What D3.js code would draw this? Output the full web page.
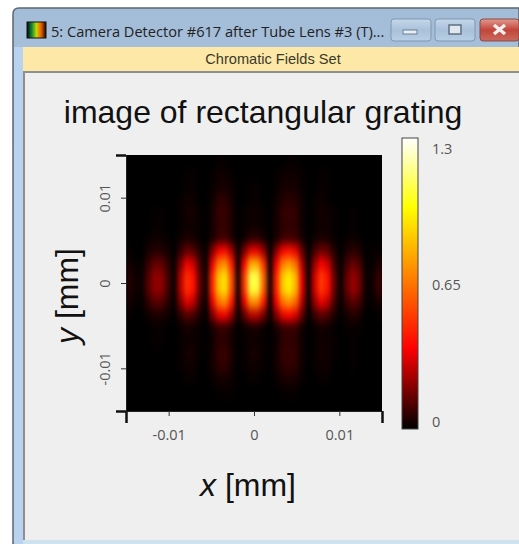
<!DOCTYPE html>
<html>
<head>
<meta charset="utf-8">
<script src="https://cdn.jsdelivr.net/npm/d3@7"></script>
<style>
  html, body { margin: 0; padding: 0; background: #fff; }
  svg { display: block; }
  .tick-label { font-family: "Open Sans", sans-serif; font-size: 14.5px; fill: #555; }
  .big { font-family: "Liberation Sans", Arial, sans-serif; fill: #111; }
</style>
</head>
<body>
<svg id="chart"></svg>
<script>
const windowTitle = "5: Camera Detector #617 after Tube Lens #3 (T)...";
const bandTitle = "Chromatic Fields Set";
const chartTitle = "image of rectangular grating";

const xTicks = [-0.015, -0.01, 0, 0.01, 0.015];
const yTicks = [-0.015, -0.01, 0, 0.01, 0.015];
const xLabels = ["", "-0.01", "0", "0.01", ""];
const yLabels = ["", "-0.01", "0", "0.01", ""];
const barTicks = [0, 0.65, 1.3];
const barLabels = ["0", "0.65", "1.3"];

// colour bar stops
const colorStops = [0, 0.36, 0.99, 1.3];
const colorValues = ["#000000", "#ff0000", "#ffff00", "#ffffff"];

// intensity, top row first, left to right
const intensity = [
  [0,0,0,0,0,0,0,0,0,0,0,0,0,0,.01,.01,0,0,0,0,0,0,0,0,0,.01,.01,0,0,0,0,0,0,0,0,0,0,0,0,0],
  [0,0,0,0,0,0,0,0,0,.01,.01,0,0,.01,.02,.02,.01,0,0,0,0,0,0,.01,.02,.02,.02,.01,0,0,.01,.01,0,0,0,0,0,0,0,0],
  [0,0,0,0,0,0,0,0,0,.01,.01,0,0,.01,.03,.03,.02,0,0,.01,.01,0,0,.01,.03,.03,.03,.01,0,0,.01,.01,0,0,0,0,0,0,0,0],
  [0,0,0,0,0,0,0,0,.01,.02,.02,0,0,.02,.06,.06,.03,0,0,.01,.01,0,0,.02,.05,.06,.05,.02,0,.01,.02,.01,0,0,0,0,0,0,0,0],
  [0,0,0,0,.01,.01,0,0,.01,.03,.03,.01,0,.03,.08,.08,.04,0,.01,.02,.02,.01,0,.03,.07,.08,.07,.02,0,.01,.03,.02,.01,0,0,.01,0,0,0,0],
  [0,0,0,0,.01,.01,0,0,.01,.02,.02,.01,0,.03,.07,.07,.04,0,.01,.02,.02,.01,0,.03,.06,.07,.06,.02,0,.01,.02,.02,.01,0,0,.01,0,0,0,0],
  [0,0,0,.01,.02,.02,.01,0,.02,.04,.03,.01,0,.03,.08,.09,.04,0,.02,.06,.06,.03,0,.03,.08,.09,.08,.03,0,.02,.04,.03,.01,0,.01,.02,.01,0,0,0],
  [.01,0,0,.03,.05,.05,.03,0,.07,.14,.12,.05,.01,.18,.35,.38,.23,.01,.17,.33,.33,.21,.01,.19,.36,.40,.34,.14,0,.10,.16,.13,.05,0,.04,.06,.04,0,.01,.01],
  [.03,.01,.01,.08,.14,.14,.07,.01,.17,.34,.29,.10,.01,.33,.66,.72,.43,.02,.37,.78,.78,.48,.02,.35,.67,.74,.63,.25,.01,.22,.36,.29,.10,.01,.09,.15,.10,.01,.01,.04],
  [.05,.02,.02,.12,.20,.20,.10,.01,.25,.47,.40,.14,.02,.45,.85,.92,.55,.03,.50,1.08,1.08,.62,.03,.45,.86,.95,.81,.32,.01,.30,.50,.40,.15,.01,.14,.22,.15,.01,.02,.08],
  [.05,.02,.02,.12,.20,.20,.10,.01,.25,.47,.40,.14,.02,.45,.85,.92,.55,.03,.48,1.06,1.06,.60,.03,.45,.86,.95,.81,.32,.01,.30,.50,.40,.15,.01,.14,.22,.15,.01,.02,.08],
  [.03,.01,.01,.07,.12,.12,.06,.01,.17,.32,.27,.09,.01,.33,.64,.70,.42,.02,.33,.70,.70,.42,.02,.35,.65,.72,.61,.25,.01,.21,.34,.27,.10,.01,.08,.13,.09,.01,.01,.03],
  [.01,0,0,.02,.04,.04,.02,0,.06,.12,.10,.04,0,.17,.32,.35,.21,.01,.13,.26,.26,.16,.01,.18,.33,.37,.31,.14,0,.08,.13,.10,.04,0,.03,.05,.03,0,0,.01],
  [0,0,0,0,.01,.01,0,0,.01,.03,.02,.01,0,.03,.07,.07,.04,0,.01,.03,.03,.01,0,.03,.07,.08,.07,.02,0,.01,.03,.02,.01,0,.01,.01,.01,0,0,0],
  [0,0,0,0,.01,.01,0,0,.01,.02,.02,.01,0,.02,.06,.06,.03,0,.01,.02,.02,.01,0,.02,.06,.07,.06,.02,0,.01,.02,.02,.01,0,0,.01,0,0,0,0],
  [0,0,0,0,0,0,0,0,.01,.03,.03,.01,0,.03,.07,.08,.04,0,.01,.03,.03,.01,0,.03,.07,.08,.07,.02,0,.01,.03,.02,.01,0,0,.01,0,0,0,0],
  [0,0,0,0,0,0,0,0,.01,.02,.02,0,0,.03,.06,.07,.03,0,.01,.02,.02,.01,0,.03,.06,.07,.06,.02,0,.01,.02,.02,0,0,0,.01,0,0,0,0],
  [0,0,0,0,0,0,0,0,0,.01,.01,0,0,.01,.03,.03,.02,0,0,.01,.01,0,0,.01,.03,.04,.03,.01,0,0,.01,.01,0,0,0,0,0,0,0,0],
  [0,0,0,0,0,0,0,0,0,0,0,0,0,0,.01,.01,.01,0,0,0,0,0,0,0,.01,.01,.01,0,0,0,0,0,0,0,0,0,0,0,0,0],
  [0,0,0,0,0,0,0,0,0,0,0,0,0,0,0,0,0,0,0,0,0,0,0,0,0,0,0,0,0,0,0,0,0,0,0,0,0,0,0,0],
];

const w = 519;
const h = 544;
const plot = { left: 126, right: 382, top: 155, bottom: 411 };

const svg = d3.select("#chart").attr("width", w).attr("height", h);
const defs = svg.append("defs");

function gradient(id, stops, horizontal) {
  const g = defs.append("linearGradient").attr("id", id)
    .attr("x1", 0).attr("y1", 0).attr("x2", horizontal ? 1 : 0).attr("y2", horizontal ? 0 : 1);
  stops.forEach((s) => g.append("stop").attr("offset", s[0]).attr("stop-color", s[1]));
}
gradient("frame", [[0, "#a3bcd8"], [0.5, "#b4cbe4"], [1, "#bcd3ec"]]);
gradient("btn", [[0, "#c6d8ea"], [0.5, "#a9c1da"], [1, "#b8cfe4"]]);
gradient("closeBtn", [[0, "#e09a8e"], [0.5, "#c2453a"], [1, "#c96a5e"]]);
gradient("icon", [[0, "#050505"], [0.25, "#0b8a35"], [0.5, "#c8d400"], [0.75, "#e85a00"], [1, "#120400"]], true);

// window frame
svg.append("path")
  .attr("d", "M13,544 V14 Q13,8 19,8 H519 V544 Z")
  .attr("fill", "url(#frame)")
  .attr("stroke", "#5e6670")
  .attr("stroke-width", 1.5);
svg.append("rect").attr("x", 14).attr("y", 47).attr("width", 9).attr("height", 497).attr("fill", "#b9d2ef");
svg.append("rect").attr("x", 23).attr("y", 47).attr("width", 496).attr("height", 24).attr("fill", "#fde8a8");
svg.append("rect").attr("x", 23).attr("y", 71).attr("width", 496).attr("height", 473).attr("fill", "#8f8f8f");
svg.append("rect").attr("x", 25).attr("y", 73).attr("width", 494).attr("height", 467).attr("fill", "#efefef");
svg.append("rect").attr("x", 23).attr("y", 540).attr("width", 496).attr("height", 4).attr("fill", "#cfe2f0");

svg.append("rect").attr("x", 27).attr("y", 22).attr("width", 19).attr("height", 16)
  .attr("fill", "url(#icon)").attr("stroke", "#111");

svg.append("text").attr("x", 51).attr("y", 37)
  .attr("font-family", "'Open Sans', sans-serif").attr("font-size", 14.6).attr("fill", "#222")
  .text(windowTitle);
svg.append("text").attr("x", 273).attr("y", 64).attr("text-anchor", "middle")
  .attr("font-family", "'Liberation Sans', Arial, sans-serif").attr("font-size", 14.6).attr("fill", "#3a3a2a")
  .text(bandTitle);

// caption buttons
[[391, "url(#btn)"], [435, "url(#btn)"], [480, "url(#closeBtn)"]].forEach((b, i) => {
  svg.append("rect").attr("x", b[0]).attr("y", 19).attr("width", i === 2 ? 39 : 40).attr("height", 22).attr("rx", 3)
    .attr("fill", b[1]).attr("stroke", i === 2 ? "#8a4a44" : "#7f97b0");
});
svg.append("rect").attr("x", 403).attr("y", 30).attr("width", 14).attr("height", 4).attr("fill", "#e8eef4").attr("stroke", "#6d7f92");
svg.append("rect").attr("x", 449).attr("y", 25).attr("width", 12).attr("height", 9).attr("fill", "#dfe7ef").attr("stroke", "#5f7082").attr("stroke-width", 1.5);
svg.append("path").attr("d", "M494,25 L505,34 M505,25 L494,34").attr("stroke", "#f2eeee").attr("stroke-width", 3.5);

// heat map
const xScale = d3.scaleLinear().domain([-0.015, 0.015]).range([plot.left, plot.right]);
const yScale = d3.scaleLinear().domain([-0.015, 0.015]).range([plot.bottom, plot.top]);
const colScale = d3.scaleBand().domain(d3.range(intensity[0].length)).range([plot.left, plot.right]);
const rowScale = d3.scaleBand().domain(d3.range(intensity.length)).range([plot.top, plot.bottom]);
const color = d3.scaleLinear().domain(colorStops).range(colorValues).clamp(true);

defs.append("clipPath").attr("id", "plotClip").append("rect")
  .attr("x", plot.left).attr("y", plot.top)
  .attr("width", plot.right - plot.left).attr("height", plot.bottom - plot.top);
const blur = defs.append("filter").attr("id", "smooth")
  .attr("filterUnits", "userSpaceOnUse")
  .attr("x", plot.left - 30).attr("y", plot.top - 30).attr("width", 316).attr("height", 316)
  .attr("color-interpolation-filters", "sRGB");
blur.append("feGaussianBlur").attr("stdDeviation", "1.9 5");

const clipped = svg.append("g").attr("clip-path", "url(#plotClip)");
clipped.append("rect")
  .attr("x", plot.left).attr("y", plot.top)
  .attr("width", plot.right - plot.left).attr("height", plot.bottom - plot.top)
  .attr("fill", "#000");
const cells = clipped.append("g").attr("filter", "url(#smooth)");
cells.selectAll("g")
  .data(intensity)
  .enter()
  .append("g")
  .selectAll("rect")
  .data((row, j) => row.map((v, i) => ({ v, i, j })))
  .enter()
  .append("rect")
  .attr("x", (d) => colScale(d.i))
  .attr("y", (d) => rowScale(d.j))
  .attr("width", colScale.bandwidth() + 0.5)
  .attr("height", rowScale.bandwidth() + 0.5)
  .attr("fill", (d) => color(d.v));

// axes
const xAxis = d3.axisBottom(xScale).tickValues(xTicks).tickSize(5).tickFormat((d, i) => xLabels[i]);
const yAxis = d3.axisLeft(yScale).tickValues(yTicks).tickSize(5).tickFormat((d, i) => yLabels[i]);

const gx = svg.append("g").attr("transform", `translate(0, ${plot.bottom})`).call(xAxis);
gx.select(".domain").attr("stroke", "#222");
gx.selectAll("line").attr("stroke", "#333");
gx.selectAll("text").attr("class", "tick-label").attr("y", 24).attr("dy", "0.32em");
gx.selectAll(".tick").filter((d) => Math.abs(d) > 0.012).select("line")
  .attr("y2", 12).attr("stroke", "#111").attr("stroke-width", 2.5);

const gy = svg.append("g").attr("transform", `translate(${plot.left}, 0)`).call(yAxis);
gy.select(".domain").attr("stroke", "#222");
gy.selectAll("line").attr("stroke", "#333");
gy.selectAll("text").attr("class", "tick-label")
  .attr("transform", "translate(-21, 0) rotate(-90)")
  .attr("x", 0).attr("y", 0).attr("dy", "0.32em").attr("text-anchor", "middle");
gy.selectAll(".tick").filter((d) => Math.abs(d) > 0.012).select("line")
  .attr("x2", -10).attr("stroke", "#111").attr("stroke-width", 2.5);

// colour bar
const barScale = d3.scaleLinear().domain([0, 1.3]).range([429, 138]);
const barLabelScale = d3.scaleLinear().domain([0, 1.3]).range([422, 149]);
gradient("barFill", colorStops.map((s, i) => [1 - s / 1.3, colorValues[i]]).reverse());
svg.append("rect")
  .attr("x", 402).attr("y", barScale(1.3))
  .attr("width", 16).attr("height", barScale(0) - barScale(1.3))
  .attr("fill", "url(#barFill)").attr("stroke", "#444");
svg.selectAll(".bar-label")
  .data(barTicks)
  .enter()
  .append("text")
  .attr("class", "tick-label bar-label")
  .attr("x", 432)
  .attr("y", (d) => barLabelScale(d))
  .attr("dy", "0.32em")
  .text((d, i) => barLabels[i]);

// titles
svg.append("text").attr("class", "big")
  .attr("x", 263).attr("y", 123).attr("text-anchor", "middle").attr("font-size", 32)
  .text(chartTitle);

const xTitle = svg.append("text").attr("class", "big")
  .attr("x", 248).attr("y", 496).attr("text-anchor", "middle").attr("font-size", 32);
xTitle.append("tspan").attr("font-style", "italic").text("x");
xTitle.append("tspan").text(" [mm]");

const yTitle = svg.append("text").attr("class", "big")
  .attr("transform", "translate(78, 296) rotate(-90)").attr("text-anchor", "middle").attr("font-size", 32);
yTitle.append("tspan").attr("font-style", "italic").text("y");
yTitle.append("tspan").text(" [mm]");
</script>
</body>
</html>
